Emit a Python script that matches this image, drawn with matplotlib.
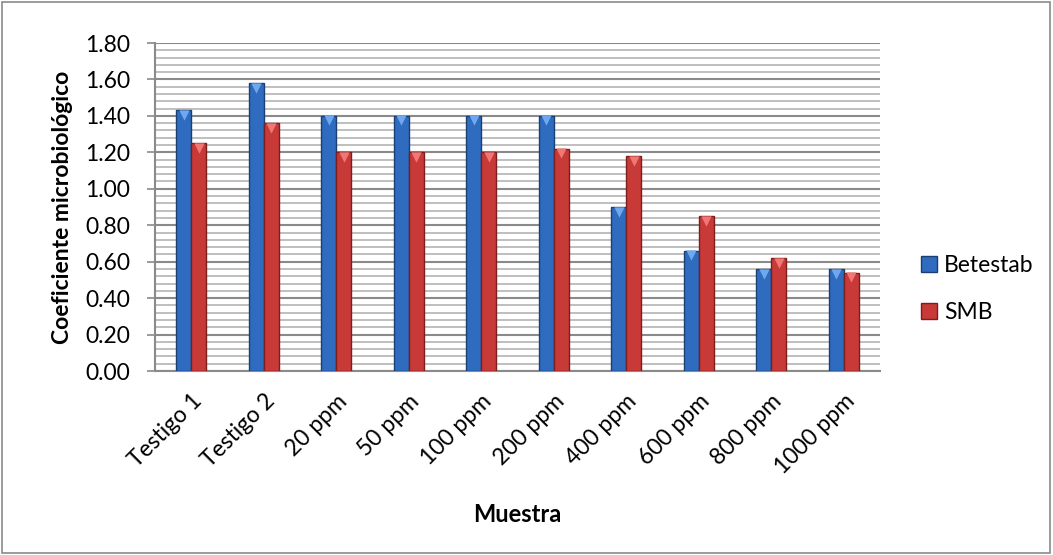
import numpy as np
import matplotlib.pyplot as plt
from matplotlib.patches import Patch, Rectangle

muestras = ["Testigo 1", "Testigo 2", "20 ppm", "50 ppm", "100 ppm",
            "200 ppm", "400 ppm", "600 ppm", "800 ppm", "1000 ppm"]
betestab = [1.43, 1.58, 1.40, 1.40, 1.40, 1.40, 0.90, 0.66, 0.56, 0.56]
smb = [1.25, 1.36, 1.20, 1.20, 1.20, 1.22, 1.18, 0.85, 0.62, 0.54]

plt.rcParams['font.family'] = ['Lato', 'DejaVu Sans']
fs = 16.5

fig = plt.figure(figsize=(10.53, 5.55), dpi=100)
ax = fig.add_axes([155 / 1053, 1 - 371 / 555, 725 / 1053, 328 / 555])

x = np.arange(len(muestras))
w = 0.207

azul, azul_borde, azul_claro = "#2f6bbf", "#1c3f72", "#6fa8ee"
rojo, rojo_borde, rojo_claro = "#c83a38", "#7a1f1d", "#f07774"

ax.bar(x - w / 2, betestab, w, color=azul, edgecolor=azul_borde, linewidth=1, zorder=3)
ax.bar(x + w / 2, smb, w, color=rojo, edgecolor=rojo_borde, linewidth=1, zorder=3)
# bisel superior
ax.scatter(x - w / 2, np.array(betestab) - 0.025, marker="v", s=55, color=azul_claro, zorder=4, linewidths=0)
ax.scatter(x + w / 2, np.array(smb) - 0.025, marker="v", s=55, color=rojo_claro, zorder=4, linewidths=0)

ax.set_xlim(-0.5, len(muestras) - 0.5)
ax.set_ylim(0, 1.8)
ax.set_yticks(np.arange(0, 1.81, 0.2))
ax.set_yticks(np.arange(0, 1.81, 0.04), minor=True)
ax.set_yticklabels([f"{v:.2f}" for v in np.arange(0, 1.81, 0.2)], fontsize=fs)
ax.grid(axis="y", which="major", color="#8a8a8a", linewidth=1.5, zorder=0)
ax.grid(axis="y", which="minor", color="#b4b4b4", linewidth=1.2, zorder=0)
ax.tick_params(axis="y", which="minor", length=0)
ax.tick_params(axis="y", which="major", length=5.8, color="#8a8a8a", width=1.2, pad=12)

ax.set_xticks(x)
ax.set_xticklabels(muestras, rotation=45, ha="right", rotation_mode="anchor", fontsize=fs)
ax.tick_params(axis="x", length=0, pad=14)

for s in ["top", "right"]:
    ax.spines[s].set_visible(False)
for s in ["left", "bottom"]:
    ax.spines[s].set_color("#8a8a8a")
    ax.spines[s].set_linewidth(1.5)

ax.set_ylabel("Coeficiente microbiológico", fontsize=fs, fontweight="bold")
ax.yaxis.set_label_coords((73 - 155) / 725, 0.5)
fig.text(517 / 1053, 1 - 514 / 555, "Muestra", fontsize=17, fontweight="bold",
         ha="center", va="center")

handles = [Patch(facecolor=azul, edgecolor=azul_borde, label="Betestab"),
           Patch(facecolor=rojo, edgecolor=rojo_borde, label="SMB")]
fig.legend(handles=handles, loc="center left", bbox_to_anchor=(921 / 1053, 1 - 289 / 555),
           frameon=False, fontsize=fs, handlelength=0.7, handleheight=0.7,
           handletextpad=0.3, labelspacing=1.1, borderpad=0, borderaxespad=0)

fig.patches.append(Rectangle((0.002, 0.003), 0.995, 0.993, transform=fig.transFigure,
                             fill=False, edgecolor="#8a8a8a", linewidth=1.2))

fig.savefig("out.png", dpi=100)
